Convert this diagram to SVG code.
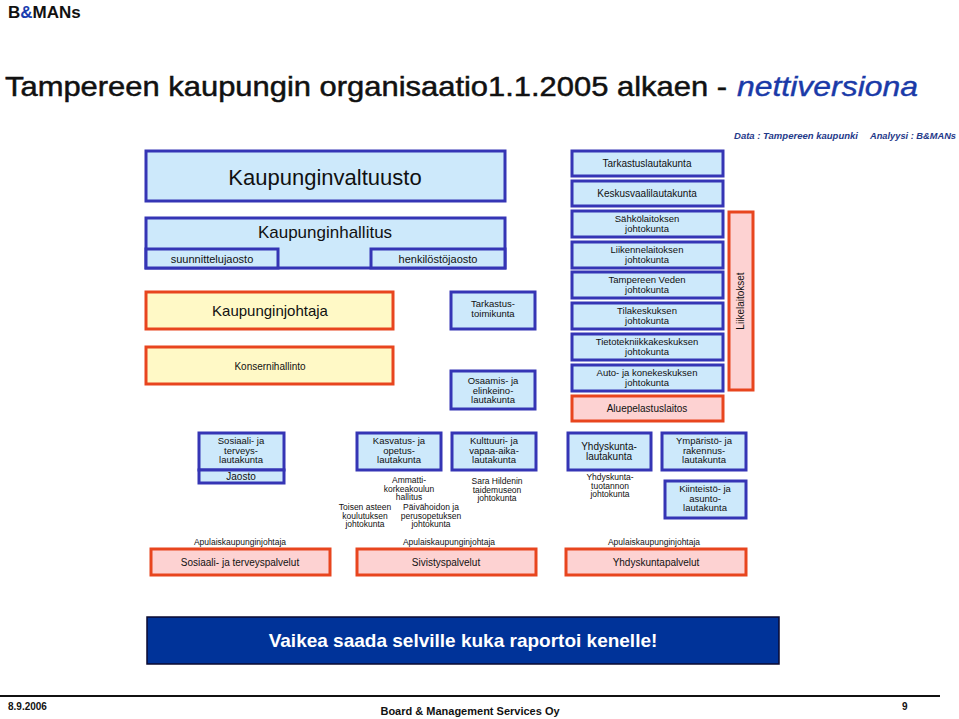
<svg xmlns="http://www.w3.org/2000/svg" width="959" height="719" viewBox="0 0 959 719">
<style>
text{font-family:"Liberation Sans",Arial,sans-serif;fill:#111}
.b{fill:#cde9fb;stroke:#3535b5;stroke-width:3}
.y{fill:#fff9c6;stroke:#e8451e;stroke-width:3}
.p{fill:#fdd2d2;stroke:#e8451e;stroke-width:3}
.c{text-anchor:middle}
.s8{font-size:8.5px}
.s9{font-size:9.5px}
.s10{font-size:10px}
.s11{font-size:11px}
</style>
<rect width="959" height="719" fill="#fff"/>
<text x="8" y="18" font-size="17" font-weight="bold">B<tspan fill="#1a3fb0" style="fill:#1a3fb0">&amp;</tspan>MANs</text>
<text x="5" y="96" font-size="28" stroke="#111" stroke-width="0.5" textLength="722" lengthAdjust="spacingAndGlyphs">Tampereen kaupungin organisaatio1.1.2005 alkaen - </text>
<text x="737" y="96" font-size="28" font-style="italic" stroke="#1a3aa8" stroke-width="0.4" style="fill:#1a3aa8" textLength="181" lengthAdjust="spacingAndGlyphs">nettiversiona</text>
<text x="734" y="139" font-size="9.5" font-style="italic" font-weight="bold" style="fill:#1f3a8a" textLength="124" lengthAdjust="spacingAndGlyphs">Data : Tampereen kaupunki</text>
<text x="870" y="139" font-size="9.5" font-style="italic" font-weight="bold" style="fill:#1f3a8a" textLength="86" lengthAdjust="spacingAndGlyphs">Analyysi : B&amp;MANs</text>

<g id="kaupunginvaltuusto"><rect class="b" x="146" y="151" width="359" height="50"/><text class="c" x="325" y="185" font-size="22">Kaupunginvaltuusto</text></g>
<g id="kaupunginhallitus"><rect class="b" x="146" y="218" width="359" height="50"/><text class="c" x="325" y="238" font-size="17">Kaupunginhallitus</text></g>
<g id="suunnittelujaosto"><rect class="b" x="146" y="249" width="132" height="19"/><text class="c s11" x="212" y="263">suunnittelujaosto</text></g>
<g id="henkilostojaosto"><rect class="b" x="371" y="249" width="134" height="19"/><text class="c s11" x="438" y="263">henkilöstöjaosto</text></g>
<g id="kaupunginjohtaja"><rect class="y" x="146" y="292" width="247" height="37"/><text class="c" x="270" y="316" font-size="15">Kaupunginjohtaja</text></g>
<g id="konsernihallinto"><rect class="y" x="146" y="347" width="247" height="37"/><text class="c s10" x="270" y="370">Konsernihallinto</text></g>
<g id="tarkastustoimikunta"><rect class="b" x="451" y="292" width="84" height="37"/><text class="c s9" x="493" y="307">Tarkastus-<tspan x="493" dy="10">toimikunta</tspan></text></g>
<g id="osaamis"><rect class="b" x="451" y="371" width="84" height="38"/><text class="c s9" x="493" y="384">Osaamis- ja<tspan x="493" dy="9.5">elinkeino-</tspan><tspan x="493" dy="9.5">lautakunta</tspan></text></g>

<g id="tarkastuslautakunta"><rect class="b" x="572" y="151" width="151" height="25"/><text class="c s10" x="647" y="167">Tarkastuslautakunta</text></g>
<g id="keskusvaalilautakunta"><rect class="b" x="572" y="181" width="151" height="25"/><text class="c s10" x="647" y="197">Keskusvaalilautakunta</text></g>
<g id="sahkolaitos"><rect class="b" x="572" y="211" width="151" height="26"/><text class="c s9" x="647" y="222">Sähkölaitoksen<tspan x="647" dy="10">johtokunta</tspan></text></g>
<g id="liikennelaitos"><rect class="b" x="572" y="242" width="151" height="26"/><text class="c s9" x="647" y="253">Liikennelaitoksen<tspan x="647" dy="10">johtokunta</tspan></text></g>
<g id="tampereenveden"><rect class="b" x="572" y="272" width="151" height="26"/><text class="c s9" x="647" y="283">Tampereen Veden<tspan x="647" dy="10">johtokunta</tspan></text></g>
<g id="tilakeskus"><rect class="b" x="572" y="303" width="151" height="26"/><text class="c s9" x="647" y="314">Tilakeskuksen<tspan x="647" dy="10">johtokunta</tspan></text></g>
<g id="tietotekniikka"><rect class="b" x="572" y="334" width="151" height="26"/><text class="c s9" x="647" y="345">Tietotekniikkakeskuksen<tspan x="647" dy="10">johtokunta</tspan></text></g>
<g id="autokone"><rect class="b" x="572" y="365" width="151" height="26"/><text class="c s9" x="647" y="376">Auto- ja konekeskuksen<tspan x="647" dy="10">johtokunta</tspan></text></g>
<g id="aluepelastuslaitos"><rect class="p" x="572" y="396" width="151" height="25"/><text class="c s10" x="647" y="412">Aluepelastuslaitos</text></g>
<g id="liikelaitokset"><rect class="p" x="729" y="212" width="24" height="178"/><text class="c s10" transform="translate(744,301) rotate(-90)" x="0" y="0">Liikelaitokset</text></g>

<g id="sosiaalilautakunta"><rect class="b" x="199" y="433" width="85" height="37"/><text class="c s9" x="241" y="444">Sosiaali- ja<tspan x="241" dy="9.5">terveys-</tspan><tspan x="241" dy="9.5">lautakunta</tspan></text></g>
<g id="jaosto"><rect class="b" x="199" y="470" width="85" height="13"/><text class="c s10" x="241" y="480">Jaosto</text></g>
<g id="kasvatus"><rect class="b" x="357" y="433" width="84" height="37"/><text class="c s9" x="399" y="444">Kasvatus- ja<tspan x="399" dy="9.5">opetus-</tspan><tspan x="399" dy="9.5">lautakunta</tspan></text></g>
<g id="kulttuuri"><rect class="b" x="452" y="433" width="84" height="37"/><text class="c s9" x="494" y="444">Kulttuuri- ja<tspan x="494" dy="9.5">vapaa-aika-</tspan><tspan x="494" dy="9.5">lautakunta</tspan></text></g>
<g id="yhdyskuntalautakunta"><rect class="b" x="568" y="433" width="83" height="37"/><text class="c s10" x="609" y="450">Yhdyskunta-<tspan x="609" dy="10">lautakunta</tspan></text></g>
<g id="ymparisto"><rect class="b" x="662" y="433" width="84" height="37"/><text class="c s9" x="704" y="444">Ympäristö- ja<tspan x="704" dy="9.5">rakennus-</tspan><tspan x="704" dy="9.5">lautakunta</tspan></text></g>
<g id="kiinteisto"><rect class="b" x="665" y="481" width="81" height="37"/><text class="c s9" x="705" y="492">Kiinteistö- ja<tspan x="705" dy="9.5">asunto-</tspan><tspan x="705" dy="9.5">lautakunta</tspan></text></g>

<g id="ammattikorkeakoulu"><text class="c s8" x="409" y="483">Ammatti-<tspan x="409" dy="8.5">korkeakoulun</tspan><tspan x="409" dy="8.5">hallitus</tspan></text></g>
<g id="toisenasteen"><text class="c s8" x="365" y="510">Toisen asteen<tspan x="365" dy="8.5">koulutuksen</tspan><tspan x="365" dy="8.5">johtokunta</tspan></text></g>
<g id="paivahoito"><text class="c s8" x="431" y="510">Päivähoidon ja<tspan x="431" dy="8.5">perusopetuksen</tspan><tspan x="431" dy="8.5">johtokunta</tspan></text></g>
<g id="sarahildenin"><text class="c s8" x="497" y="484">Sara Hildenin<tspan x="497" dy="8.5">taidemuseon</tspan><tspan x="497" dy="8.5">johtokunta</tspan></text></g>
<g id="yhdyskuntatuotanto"><text class="c s8" x="610" y="480">Yhdyskunta-<tspan x="610" dy="8.5">tuotannon</tspan><tspan x="610" dy="8.5">johtokunta</tspan></text></g>

<text class="c s8" x="240" y="545">Apulaiskaupunginjohtaja</text>
<text class="c s8" x="449" y="545">Apulaiskaupunginjohtaja</text>
<text class="c s8" x="654" y="545">Apulaiskaupunginjohtaja</text>
<g id="sosiaalipalvelut"><rect class="p" x="151" y="549" width="179" height="26"/><text class="c s10" x="240" y="566">Sosiaali- ja terveyspalvelut</text></g>
<g id="sivistyspalvelut"><rect class="p" x="357" y="549" width="179" height="26"/><text class="c s10" x="446" y="566">Sivistyspalvelut</text></g>
<g id="yhdyskuntapalvelut"><rect class="p" x="566" y="549" width="180" height="26"/><text class="c s10" x="656" y="566">Yhdyskuntapalvelut</text></g>

<g id="connectors"></g>

<g id="banner"><rect x="147" y="617" width="632" height="47" fill="#003399" stroke="#0a0a30" stroke-width="1.5"/><text class="c" x="463" y="647" font-size="19" font-weight="bold" style="fill:#fff">Vaikea saada selville kuka raportoi kenelle!</text></g>

<line x1="0" y1="696" x2="940" y2="696" stroke="#111" stroke-width="2"/>
<text x="8" y="710" font-size="10" font-weight="bold">8.9.2006</text>
<text class="c" x="470" y="715" font-size="11" font-weight="bold">Board &amp; Management Services Oy</text>
<text x="902" y="710" font-size="10" font-weight="bold">9</text>
</svg>
